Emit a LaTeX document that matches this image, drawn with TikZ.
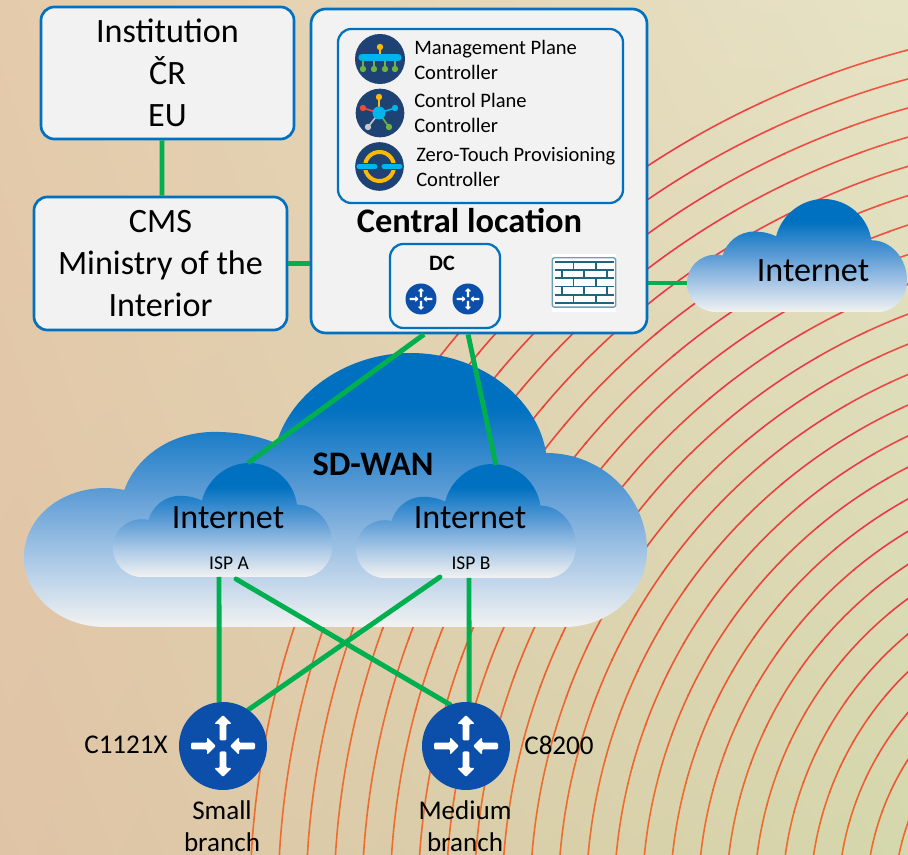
\documentclass[tikz,border=0pt]{standalone}
\usepackage{fontspec}
\setmainfont{Carlito}
\definecolor{boxblue}{HTML}{0070C0}
\definecolor{boxfill}{HTML}{F2F2F2}
\definecolor{linkgreen}{HTML}{00B050}
\definecolor{routerblue}{HTML}{0B4FAB}
\definecolor{icondark}{HTML}{1E4273}
\definecolor{iconcyan}{HTML}{00B5EC}
\definecolor{iconorange}{HTML}{FFB900}
\definecolor{icongreen}{HTML}{6CB33F}
\definecolor{iconred}{HTML}{EE4B3A}
\definecolor{icongray}{HTML}{C8C8C8}
\definecolor{wallteal}{HTML}{1F6480}
\definecolor{wallframe}{HTML}{6F9FB3}
\definecolor{arcA}{HTML}{EE6C2E}
\definecolor{arcB}{HTML}{E84A38}
\definecolor{arcC}{HTML}{E83A48}
\definecolor{arcD}{HTML}{F06040}
\definecolor{cldtop}{HTML}{0070C0}
\definecolor{cldb}{HTML}{2E86CB}
\definecolor{cldc}{HTML}{5B9BD5}
\definecolor{cldd}{HTML}{A9C8E6}
\definecolor{cldbot}{HTML}{F2F2F2}
\pgfdeclareverticalshading{cloudsh}{100bp}{color(0bp)=(cldbot);color(25bp)=(cldbot);color(37.5bp)=(cldd);color(50bp)=(cldc);color(57.5bp)=(cldb);color(65bp)=(cldtop);color(100bp)=(cldtop)}
\pgfdeclarefunctionalshading{paper}{\pgfpoint{0bp}{0bp}}{\pgfpoint{100bp}{100bp}}{}{
  25 sub 50 div exch 25 sub 50 div exch
  2 copy mul
  2 index -0.043 mul 2 index 0.016 mul add 1 index 0.051 mul add 0.878 add
  3 index 0.074 mul 3 index 0.027 mul add 2 index 0.020 mul add 0.769 add
  4 index 0.024 mul 4 index 0.020 mul add 3 index 0.078 mul add 0.651 add
  6 3 roll pop pop pop
}
\tikzset{
  box/.style={draw=boxblue,fill=boxfill,line width=2pt,rounded corners=10pt,inner sep=0pt,align=center},
  bigtxt/.style={font=\fontsize{25.6}{31.5}\selectfont,inner sep=0pt,align=center},
  headtxt/.style={font=\bfseries\fontsize{25.8}{26}\selectfont,inner sep=0pt},
  smalltxt/.style={font=\fontsize{15.4}{18.8}\selectfont,inner sep=0pt,align=left,anchor=west},
  isptxt/.style={font=\fontsize{14.6}{16}\selectfont,inner sep=0pt},
  devtxt/.style={font=\fontsize{20.3}{24}\selectfont,inner sep=0pt,align=center},
  link/.style={draw=linkgreen,line width=3.7pt},
  roundlink/.style={link,line cap=round},
  routerdisc/.style={circle,fill=routerblue,inner sep=0pt},
  routerspot/.style={circle,inner sep=0pt},
  icondisc/.style={circle,fill=icondark,inner sep=0pt},
  brick/.style={draw=wallteal,line width=1.2pt},
}
\newcommand{\cloudat}[4]{%
  \begin{scope}[shift={(#1,#2)},x={#3*0.75pt},y={-#4*0.75pt}]
    \shade[shading=cloudsh] (.13,1)
      .. controls (.058,1) and (0,.886) .. (0,.745)
      .. controls (0,.603) and (.058,.493) .. (.13,.493)
      .. controls (.141,.493) and (.151,.495) .. (.161,.5)
      .. controls (.18,.38) and (.235,.288) .. (.306,.288)
      .. controls (.345,.288) and (.38,.305) .. (.405,.33)
      .. controls (.43,.14) and (.52,0) .. (.62,0)
      .. controls (.735,0) and (.825,.17) .. (.838,.365)
      .. controls (.93,.365) and (1,.53) .. (1,.72)
      .. controls (1,.875) and (.94,1) .. (.868,1) -- cycle;
  \end{scope}}
\newcommand{\routermarks}[3]{%
  \begin{scope}[shift={(#1,#2)},x={#3*0.75pt},y={-#3*0.75pt}]
    \fill[white,rounded corners=#3*0.9pt]
      (0,-31) -- (8.8,-22) -- (3.3,-22) -- (3.3,-5.5) -- (-3.3,-5.5) -- (-3.3,-22) -- (-8.8,-22) -- cycle
      (0,31) -- (8.8,22) -- (3.3,22) -- (3.3,5.5) -- (-3.3,5.5) -- (-3.3,22) -- (-8.8,22) -- cycle
      (-7,0) -- (-16,-8.8) -- (-16,-3.3) -- (-32,-3.3) -- (-32,3.3) -- (-16,3.3) -- (-16,8.8) -- cycle
      (7,0) -- (16,-8.8) -- (16,-3.3) -- (32,-3.3) -- (32,3.3) -- (16,3.3) -- (16,8.8) -- cycle;
  \end{scope}}
\begin{document}
\begin{tikzpicture}[x=0.75pt,y=-0.75pt]
\useasboundingbox (0,0) rectangle (908,855);
% background
\shade[shading=paper] (0,0) rectangle (908,855);
% concentric arcs
\begin{scope}
\clip (0,0) rectangle (908,855);
\begin{scope}[shift={(1132,903)},x=0.75pt,y=0.75pt,line width=1.2pt]
\foreach \k in {0,...,23}{
  \pgfmathsetmacro{\rr}{882-28*\k}
  \foreach \a/\b/\c in {
     190/165/arcA, 165/160/arcA!85!arcB, 160/155/arcA!65!arcB, 155/150/arcA!45!arcB, 150/145/arcA!25!arcB,
     145/140/arcB, 140/130/arcB!60!arcC, 130/120/arcC, 120/115/arcC!75!arcD, 115/110/arcC!50!arcD, 110/105/arcC!25!arcD, 105/60/arcD}{
    \pgfmathsetmacro{\bb}{\b-0.2}
    \draw[color=\c] (\a:\rr) arc[start angle=\a,end angle=\bb,radius=\rr];
  }
}
\end{scope}
\end{scope}
% clouds
\cloudat{24}{353}{623}{274}
\node[headtxt] (sdwan) at (373,464) {SD-WAN};
\cloudat{113}{463}{219.5}{114}
\cloudat{356}{464}{220}{114}
\cloudat{687}{199}{220}{113}
\node[bigtxt] (neta) at (228,518) {Internet};
\node[bigtxt] (netb) at (470,518) {Internet};
\node[bigtxt] (netc) at (813,271) {Internet};
\node[isptxt] (ispa) at (229,563) {ISP A};
\node[isptxt] (ispb) at (471,563) {ISP B};
\coordinate (atop) at (248,463);
\coordinate (btop) at (496,465);
\coordinate (abot1) at (219,577);
\coordinate (abot2) at (236,579);
\coordinate (bbot1) at (440,577);
\coordinate (bbot2) at (469,578);
\coordinate (cleft) at (687,283);
% boxes
\node[box,bigtxt,minimum width=189.75pt,minimum height=99pt] (inst) at (167.5,73) {Institution\\ČR\\EU};
\node[box,bigtxt,minimum width=189.75pt,minimum height=99.75pt] (cms) at (160.5,263.5) {CMS\\Ministry of the\\Interior};
\node[box,minimum width=252pt,minimum height=243pt,rounded corners=11pt] (central) at (479,171) {};
\node[box,minimum width=213.75pt,minimum height=130.5pt,line width=1.7pt] (ctrl) at (480.5,116) {};
\node[headtxt] (centraltxt) at (469.5,221) {Central location};
\node[box,minimum width=82.5pt,minimum height=63pt,line width=1.7pt] (dc) at (445,286) {};
\node[font=\bfseries\fontsize{16.5}{18}\selectfont,inner sep=0pt] (dctxt) at (442,263) {DC};
% controller texts
\node[smalltxt] (mgmt) at (414,59.5) {Management Plane\\Controller};
\node[smalltxt] (ctl) at (414,112.5) {Control Plane\\Controller};
\node[smalltxt] (ztp) at (416,166.5) {Zero-Touch Provisioning\\Controller};
% controller icons
\node[icondisc,minimum size=37.5pt] (ic1) at (380,59) {};
\draw[iconorange,line width=1.2pt] (380,47) -- (380,57);
\fill[iconorange] (380,47) circle (3.2);
\draw[icongreen,line width=1.1pt] (363,58) -- (363,69) (374,58) -- (374,69) (385,58) -- (385,69) (395,58) -- (395,69);
\fill[icongreen] (363,69) circle (3.2) (374,69) circle (3.2) (385,69) circle (3.2) (395,69) circle (3.2);
\draw[iconcyan,line width=5.4pt,line cap=round] (362,57.5) -- (398,57.5);
\node[icondisc,minimum size=36.5pt] (ic2) at (380,113) {};
\draw[iconorange,line width=1.2pt] (379,113) -- (379,97);
\draw[iconred,line width=1.2pt] (379,113) -- (363,108);
\draw[iconcyan,line width=1.2pt] (379,113) -- (395,108);
\draw[icongray,line width=1.2pt] (379,113) -- (368,127);
\draw[icongreen,line width=1.2pt] (379,113) -- (389,127);
\fill[iconorange] (379,97) circle (3.2);
\fill[iconred] (363,108) circle (3.2);
\fill[iconcyan] (395,108) circle (3.2);
\fill[icongray] (368,127) circle (3.2);
\fill[icongreen] (389,127) circle (3.2);
\fill[iconcyan] (379,113) circle (6.5);
\node[icondisc,minimum size=36.5pt] (ic3) at (379.5,166.5) {};
\draw[iconorange,line width=3pt] (379.5,166.5) circle (14.5);
\draw[icondark,line width=5.6pt] (358,166.5) -- (376,166.5) (383,166.5) -- (401,166.5);
\draw[iconcyan,line width=3.8pt,line cap=round] (359,166.5) -- (375,166.5);
\draw[iconcyan,line width=3.8pt,line cap=round] (384,166.5) -- (400,166.5);
% DC routers
\node[routerdisc,minimum size=23.25pt] (dc1) at (421,299) {};
\node[routerdisc,minimum size=23.25pt] (dc2) at (468,299) {};
\routermarks{421}{299}{0.352}
\routermarks{468}{299}{0.352}
% firewall
\fill[white] (552,254) rectangle (616,312);
\node[draw=wallframe,line width=1pt,rounded corners=1.5pt,minimum width=47.5pt,minimum height=37pt,inner sep=0pt] (wall) at (584,282.5) {};
\draw[brick,line width=1.5pt] (555,261.7) -- (613.5,261.7) (555,303.3) -- (613.5,303.3);
\draw[brick] (555,270) -- (613.5,270) (555,278.3) -- (613.5,278.3) (555,286.7) -- (613.5,286.7) (555,295) -- (613.5,295);
\foreach \y in {261.7,278.3,295} \draw[brick] (573.3,\y) -- (573.3,\y+8.3) (596,\y) -- (596,\y+8.3);
\foreach \y in {270,286.7} \draw[brick] (561.7,\y) -- (561.7,\y+8.3) (584,\y) -- (584,\y+8.3) (606.7,\y) -- (606.7,\y+8.3);
% links
\node[routerspot,minimum size=66pt] (ra) at (223,746) {};
\node[routerspot,minimum size=66pt] (rb) at (466,746) {};
\draw[link] ([xshift=-4.1pt]inst.south) -- ([xshift=1.1pt]cms.north);
\draw[link] (cms.east) -- (central.west |- cms.east);
\draw[link] (central.east |- cleft) -- (cleft);
\draw[link] ([xshift=-41.2pt]central.south) -- (atop);
\draw[link] ([xshift=-8.2pt]central.south) -- (btop);
\draw[link] (abot1) -- (ra.95);
\draw[roundlink] (abot2) -- (rb.111);
\draw[roundlink] (bbot1) -- (ra.55);
\draw[link] (bbot2) -- (rb.86);
\fill[routerblue] (ra.center) circle (44) (rb.center) circle (44);
\routermarks{223}{746}{1}
\routermarks{466}{746}{1}
% device labels
\node[devtxt] (c1) at (126,745) {C1121X};
\node[devtxt] (c8) at (559,745) {C8200};
\node[devtxt] (smallb) at (222,826) {Small\\branch};
\node[devtxt] (medb) at (465,826) {Medium\\branch};
\end{tikzpicture}
\end{document}
